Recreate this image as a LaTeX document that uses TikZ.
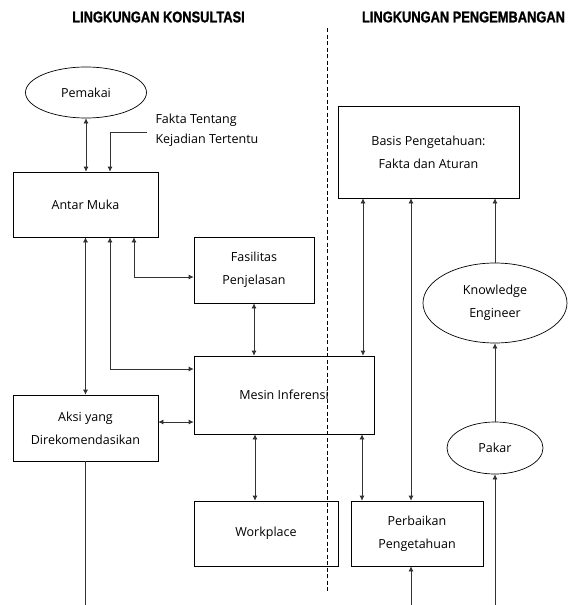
\documentclass[tikz,border=0pt]{standalone}
\usepackage{fontspec}
\setmainfont{Open Sans}
\newfontfamily\titlefont[FakeStretch=0.83,FakeBold=1.2]{Liberation Sans Bold}
\usepackage{tikz}
\usetikzlibrary{arrows.meta, shapes.geometric}

\tikzset{
  box/.style={draw, rectangle, line width=0.7pt, align=center, inner sep=0pt, font=\fontsize{12.5}{23}\selectfont},
  oval/.style={draw, ellipse, line width=0.7pt, align=center, inner sep=0pt, font=\fontsize{12.5}{23}\selectfont},
  heading/.style={font=\titlefont\fontsize{15.5}{17}\selectfont},
  link/.style={line width=0.7pt, black!80}
}

\begin{document}
\begin{tikzpicture}[x=1pt,y=-1pt,>={Latex[length=5pt,width=5pt]}]
\useasboundingbox (0,0) rectangle (575,605);

% headings and the border between both parts
\node[heading] (hkons) at (158.5,17) {LINGKUNGAN KONSULTASI};
\node[heading] (hpeng) at (463.5,17) {LINGKUNGAN PENGEMBANGAN};
\draw[dashed, dash pattern=on 4pt off 2.5pt, line width=0.6pt] (327,28) -- (327,592);

% consultation side
\node[oval, minimum width=121pt, minimum height=51pt] (pemakai) at (86,92.5) {Pemakai};
\node[box, minimum width=145pt, minimum height=65pt] (antar) at (85.5,204.5) {Antar Muka};
\node[box, minimum width=120pt, minimum height=66pt] (fasilitas) at (254,270) {Fasilitas\\Penjelasan};
\node[box, minimum width=180pt, minimum height=78pt] (mesin) at (284,395) {Mesin Inferensi};
\node[box, minimum width=145pt, minimum height=66pt] (aksi) at (85.5,428) {Aksi yang\\Direkomendasikan};
\node[box, minimum width=144pt, minimum height=65pt] (workplace) at (266,533.5) {Workplace};
\node[anchor=west, align=left, font=\fontsize{12.5}{19.5}\selectfont] (fakta) at (152,130.5) {Fakta Tentang\\Kejadian Tertentu};

% development side
\node[box, minimum width=181pt, minimum height=92pt] (basis) at (428.5,152) {Basis Pengetahuan:\\Fakta dan Aturan};
\node[oval, minimum width=144pt, minimum height=80pt] (knowledge) at (495,303) {Knowledge\\Engineer};
\node[oval, minimum width=96pt, minimum height=52pt] (pakar) at (495,448) {Pakar};
\node[box, minimum width=132pt, minimum height=65pt] (perbaikan) at (417,533.5) {Perbaikan\\Pengetahuan};

\coordinate (fk) at (147,132);
\coordinate (outaksi) at (86,605);
\coordinate (inperb) at (411,605);
\coordinate (inpakar) at (495,605);

% connectors, consultation
\draw[link,<->] (pemakai.south) -- (pemakai.south |- antar.north);
\draw[link,->] (fk) -| ([xshift=24.5pt]antar.north);
\draw[link,<->] (antar.south) -- (aksi.north);
\draw[link,<->] ([xshift=24.5pt]antar.south) |- ([yshift=26pt]mesin.west);
\draw[link,<->] ([xshift=48.5pt]antar.south) |- ([yshift=-7pt]fasilitas.west);
\draw[link,<->] (fasilitas.south) -- (fasilitas.south |- mesin.north);
\draw[link,<->] ([yshift=6pt]aksi.east) -- ([yshift=6pt]aksi.east -| mesin.west);
\draw[link,<->] ([xshift=-29pt]mesin.south) -- ([xshift=-29pt]mesin.south |- workplace.north);
\draw[link] (aksi.south) -- (aksi.south |- outaksi);

% connectors, development
\draw[link,<->] ([xshift=-65.5pt]basis.south) -- ([xshift=-65.5pt]basis.south |- mesin.north);
\draw[link,<->] ([xshift=78pt]mesin.south) -- ([xshift=78pt]mesin.south |- perbaikan.north);
\draw[link,<->] ([xshift=-17.5pt]basis.south) -- ([xshift=-17.5pt]basis.south |- perbaikan.north);
\draw[link,->] (inperb) -- (inperb |- perbaikan.south);
\draw[link,->] (inpakar) -- (pakar.south);
\draw[link,->] (pakar.north) -- (knowledge.south);
\draw[link,->] (knowledge.north) -- (knowledge.north |- basis.south);
\end{tikzpicture}
\end{document}
